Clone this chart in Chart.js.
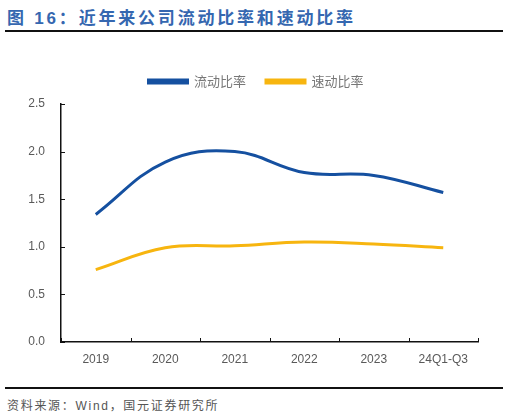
<!DOCTYPE html>
<html lang="zh">
<head>
    <meta charset="UTF-8">
    <title>近年来公司流动比率和速动比率</title>
    <script src="https://cdn.jsdelivr.net/npm/chart.js"></script>
    <style>
        body {
            margin: 0;
            background: #fff;
            font-family: 'Liberation Sans', 'Noto Sans CJK SC', sans-serif;
        }

        .page {
            position: relative;
            width: 509px;
            height: 418px;
            overflow: hidden;
        }

        .title {
            position: absolute;
            left: 7px;
            top: 4px;
            font-size: 17px;
            font-weight: bold;
            color: #3567b0;
            font-family: 'Liberation Sans', 'Noto Sans CJK SC', sans-serif;
            letter-spacing: 2.8px;
        }

        .rule {
            position: absolute;
            left: 5px;
            width: 498px;
            height: 2px;
            background: #111;
        }

        .chart-box {
            position: absolute;
            left: 0;
            top: 40px;
            width: 509px;
            height: 341px;
        }

        .source {
            position: absolute;
            left: 7px;
            top: 396px;
            font-size: 12px;
            color: #555;
            font-family: 'Liberation Sans', 'Noto Sans CJK SC', sans-serif;
            letter-spacing: 1.7px;
        }
    </style>
</head>
<body>
    <div class="page">
        <div class="title">图 16：近年来公司流动比率和速动比率</div>
        <div class="rule" style="top: 30px;"></div>
        <div class="chart-box">
            <canvas id="ratioChart"></canvas>
        </div>
        <div class="rule" style="top: 387px;"></div>
        <div class="source">资料来源：Wind，国元证券研究所</div>
    </div>

    <script>
        const years = ["2019", "2020", "2021", "2022", "2023", "24Q1-Q3"];
        const currentRatio = [1.34, 1.89, 2.00, 1.78, 1.75, 1.57];
        const quickRatio = [0.76, 0.99, 1.01, 1.05, 1.03, 0.99];
        const yTicks = [0, 0.5, 1.0, 1.5, 2.0, 2.5];

        // tick marks point into the plot, so draw them by hand
        const innerTicks = {
            id: 'innerTicks',
            afterDatasetsDraw(chart) {
                const ctx = chart.ctx;
                const x = chart.scales.x;
                const y = chart.scales.y;
                const area = chart.chartArea;
                ctx.save();
                ctx.strokeStyle = '#111';
                ctx.lineWidth = 1;
                ctx.beginPath();
                yTicks.forEach(v => {
                    const py = Math.round(y.getPixelForValue(v)) + 0.5;
                    ctx.moveTo(area.left, py);
                    ctx.lineTo(area.left + 4, py);
                });
                for (let i = 0; i <= years.length; i++) {
                    const px = Math.round(x.getPixelForValue(i - 0.5)) + 0.5;
                    ctx.moveTo(px, area.bottom);
                    ctx.lineTo(px, area.bottom - 4);
                }
                ctx.stroke();
                ctx.restore();
            }
        };

        // a bit more room under the legend, and centre it on the page
        const legendGap = {
            id: 'legendGap',
            beforeInit(chart) {
                const fit = chart.legend.fit;
                chart.legend.fit = function () {
                    fit.bind(chart.legend)();
                    this.height += 6;
                };
            },
            afterLayout(chart) {
                chart.legend.left += 17;
                chart.legend.right += 17;
            }
        };

        new Chart(document.getElementById('ratioChart'), {
            type: 'line',
            data: {
                labels: years,
                datasets: [
                    {
                        label: '流动比率',
                        data: currentRatio,
                        borderColor: '#1550a0',
                        backgroundColor: '#1550a0',
                        borderWidth: 3,
                        pointRadius: 0,
                        tension: 0.4,
                        fill: false
                    },
                    {
                        label: '速动比率',
                        data: quickRatio,
                        borderColor: '#f7b50f',
                        backgroundColor: '#f7b50f',
                        borderWidth: 3,
                        pointRadius: 0,
                        tension: 0.4,
                        fill: false
                    }
                ]
            },
            options: {
                responsive: true,
                maintainAspectRatio: false,
                animation: false,
                layout: { padding: { top: 15, right: 31, left: 0, bottom: 0 } },
                plugins: {
                    legend: {
                        position: 'top',
                        labels: {
                            boxWidth: 39,
                            boxHeight: 3,
                            padding: 20,
                            color: '#777',
                            font: { size: 13, family: "'Noto Sans CJK SC', sans-serif" }
                        }
                    },
                    tooltip: { enabled: false }
                },
                scales: {
                    x: {
                        offset: true,
                        grid: { display: false, drawTicks: false },
                        border: { color: '#111', width: 1.5 },
                        ticks: {
                            color: '#595959',
                            padding: 10,
                            maxRotation: 0,
                            font: { size: 12, family: "'Liberation Sans', sans-serif" }
                        },
                        afterFit(scale) { scale.height = 39; }
                    },
                    y: {
                        min: 0,
                        max: 2.5,
                        grid: { display: false, drawTicks: false },
                        border: { color: '#111', width: 1.5 },
                        afterBuildTicks(scale) {
                            scale.ticks = yTicks.map(v => ({ value: v }));
                        },
                        ticks: {
                            color: '#595959',
                            padding: 16,
                            callback: v => Number(v).toFixed(1),
                            font: { size: 12, family: "'Liberation Sans', sans-serif" }
                        },
                        afterFit(scale) { scale.width = 61; }
                    }
                }
            },
            plugins: [innerTicks, legendGap]
        });
    </script>
</body>
</html>
